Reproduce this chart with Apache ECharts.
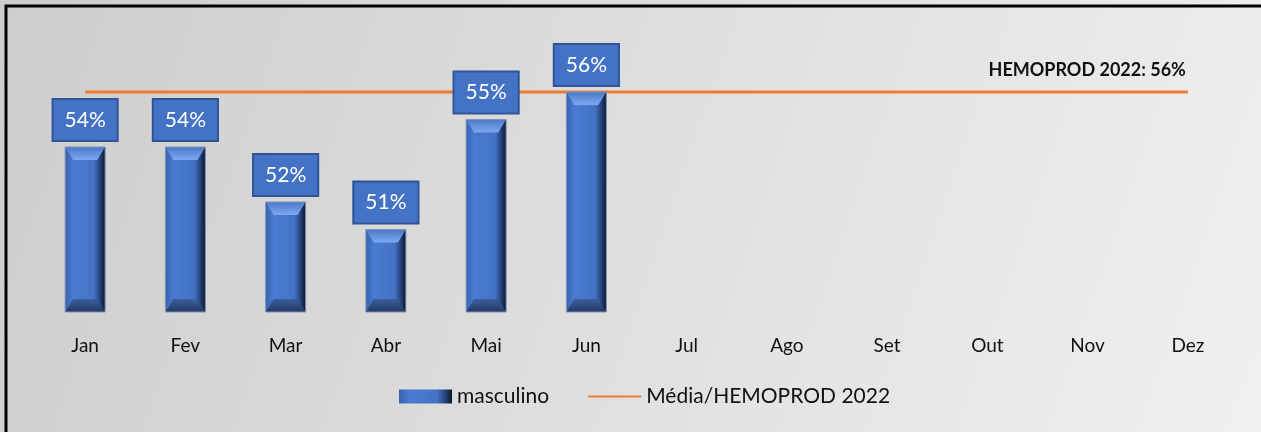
<!DOCTYPE html>
<html>
<head>
<meta charset="utf-8">
<script src="https://cdn.jsdelivr.net/npm/echarts@6/dist/echarts.min.js"></script>
<style>
  html, body { margin: 0; padding: 0; }
  #chart { width: 1261px; height: 432px; }
</style>
</head>
<body>
<div id="chart"></div>
<script>
var months = ['Jan', 'Fev', 'Mar', 'Abr', 'Mai', 'Jun', 'Jul', 'Ago', 'Set', 'Out', 'Nov', 'Dez'];
var masculino = [54, 54, 52, 51, 55, 56];
var media = [56, 56, 56, 56, 56, 56, 56, 56, 56, 56, 56, 56];
var mediaLabel = 'HEMOPROD 2022: 56%';
var yMin = 48;
var yMax = 58;

var chart = echarts.init(document.getElementById('chart'));

// bevel edges for bars
function renderBevel(params, api) {
  var idx = api.value(0);
  var top = api.coord([idx, api.value(1)]);
  var bot = api.coord([idx, yMin]);
  var w = 40, b = 8, h = 13;
  var x0 = top[0] - w / 2, x1 = top[0] + w / 2;
  var yt = top[1], yb = bot[1];
  return {
    type: 'group',
    children: [
      {
        type: 'polygon',
        shape: { points: [[x0, yt], [x1, yt], [x1 - b, yt + h], [x0 + b, yt + h]] },
        style: {
          fill: new echarts.graphic.LinearGradient(0, 0, 0, 1, [
            { offset: 0, color: '#4a78c8' },
            { offset: 1, color: '#7ea8f0' }
          ])
        }
      },
      {
        type: 'polygon',
        shape: { points: [[x0, yb], [x1, yb], [x1 - b, yb - h], [x0 + b, yb - h]] },
        style: {
          fill: new echarts.graphic.LinearGradient(0, 0, 0, 1, [
            { offset: 0, color: '#3a5f9f' },
            { offset: 1, color: '#22395f' }
          ])
        }
      },
      {
        type: 'rect',
        shape: { x: x0, y: yt, width: w, height: yb - yt },
        style: { fill: 'none', stroke: '#7f93b8', lineWidth: 1 }
      }
    ]
  };
}

var option = {
  animation: false,
  backgroundColor: new echarts.graphic.LinearGradient(0, 0, 1, 1, [
    { offset: 0, color: '#cdcdcd' },
    { offset: 1, color: '#f0f0f0' }
  ]),
  textStyle: { fontFamily: 'Lato, "Open Sans", sans-serif' },
  graphic: [{
    type: 'polyline',
    shape: { points: [[6, 432], [6, 6], [1261, 6]] },
    style: { stroke: '#000', lineWidth: 3, fill: 'none' }
  }],
  grid: {
    top: 37,
    bottom: 120,
    left: 35,
    right: 23
  },
  legend: {
    bottom: 20,
    left: 394,
    itemGap: 38,
    itemWidth: 53,
    itemHeight: 14,
    textStyle: { fontSize: 21, color: '#111', fontFamily: 'Lato, sans-serif' },
    data: [
      { name: 'masculino', icon: 'rect' },
      { name: 'Média/HEMOPROD 2022', itemStyle: { opacity: 0 } }
    ]
  },
  xAxis: {
    type: 'category',
    data: months,
    axisLine: { show: false },
    axisTick: { show: false },
    axisLabel: {
      color: '#111',
      fontSize: 19,
      margin: 24
    }
  },
  yAxis: {
    type: 'value',
    min: yMin,
    max: yMax,
    show: false,
    splitLine: { show: false }
  },
  series: [
    {
      name: 'masculino',
      type: 'bar',
      barWidth: 40,
      data: masculino,
      itemStyle: {
        color: new echarts.graphic.LinearGradient(0, 0, 1, 0, [
          { offset: 0, color: '#3862ad' },
          { offset: 0.2, color: '#4a7bd2' },
          { offset: 0.72, color: '#4472c4' },
          { offset: 0.85, color: '#2a4a86' },
          { offset: 1, color: '#0c1628' }
        ])
      },
      label: {
        show: true,
        position: 'top',
        distance: 7,
        formatter: '{c}%',
        color: '#fff',
        fontSize: 21,
        lineHeight: 24,
        backgroundColor: '#4472c4',
        borderColor: '#2f5597',
        borderWidth: 2,
        padding: [8, 11]
      },
      z: 2
    },
    {
      name: 'bevel',
      type: 'custom',
      silent: true,
      renderItem: renderBevel,
      data: masculino.map(function(v, i) { return [i, v]; }),
      z: 3
    },
    {
      name: 'Média/HEMOPROD 2022',
      type: 'line',
      data: media,
      symbol: 'none',
      itemStyle: { color: '#ed7d31' },
      lineStyle: { color: '#ed7d31', width: 3 },
      endLabel: {
        show: true,
        formatter: mediaLabel,
        align: 'right',
        distance: 0,
        offset: [-2, -22],
        fontWeight: 'bold',
        fontSize: 18,
        color: '#111'
      },
      z: 1
    }
  ]
};

chart.setOption(option);
</script>
</body>
</html>
